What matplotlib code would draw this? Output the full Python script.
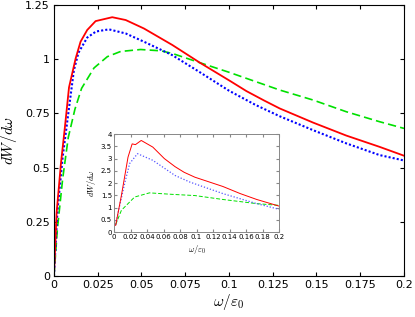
import matplotlib
matplotlib.use("Agg")
import matplotlib.pyplot as plt

plt.rcParams['mathtext.fontset'] = 'cm'
plt.rcParams['font.family'] = ['DejaVu Sans']

# main panel data
red_w = [0, 0.0015, 0.004, 0.0063, 0.0086, 0.0124, 0.0152, 0.019, 0.0238, 0.0333, 0.041,
         0.0514, 0.0676, 0.0834, 0.1006, 0.11, 0.12, 0.129, 0.148, 0.167, 0.186, 0.2]
red_v = [0, 0.29, 0.52, 0.69, 0.87, 1.004, 1.081, 1.135, 1.176, 1.194, 1.181,
         1.142, 1.066, 0.984, 0.900, 0.853, 0.81, 0.773, 0.708, 0.648, 0.596, 0.555]

blue_w = [0, 0.002, 0.005, 0.0082, 0.0114, 0.014, 0.019, 0.024, 0.0314, 0.041, 0.0514,
          0.0676, 0.083, 0.1, 0.115, 0.129, 0.148, 0.167, 0.186, 0.2]
blue_v = [0, 0.3, 0.55, 0.75, 0.95, 1.03, 1.10, 1.128, 1.138, 1.119, 1.081,
          1.019, 0.942, 0.855, 0.79, 0.737, 0.673, 0.612, 0.558, 0.533]

green_w = [0, 0.002, 0.005, 0.0082, 0.012, 0.0158, 0.0229, 0.0305, 0.0381, 0.0495, 0.061,
           0.0676, 0.0834, 0.1, 0.129, 0.148, 0.167, 0.186, 0.2]
green_v = [0, 0.22, 0.45, 0.64, 0.77, 0.866, 0.96, 1.012, 1.036, 1.045, 1.039,
           1.027, 0.984, 0.94, 0.858, 0.812, 0.758, 0.712, 0.681]

# inset data
in_red_w = [0.002, 0.009, 0.017, 0.022, 0.026, 0.033, 0.047, 0.061, 0.074, 0.085, 0.098,
            0.115, 0.132, 0.153, 0.173, 0.2]
in_red_v = [0.27, 1.5, 3.06, 3.6, 3.57, 3.74, 3.47, 3.0, 2.67, 2.44, 2.24,
            2.05, 1.86, 1.57, 1.33, 1.06]

in_blue_w = [0.002, 0.006, 0.0133, 0.019, 0.0285, 0.047, 0.074, 0.092, 0.132, 0.173, 0.2]
in_blue_v = [0.3, 0.95, 2.04, 2.8, 3.2, 2.93, 2.31, 2.04, 1.57, 1.16, 0.93]

in_green_w = [0.002, 0.009, 0.017, 0.025, 0.043, 0.07, 0.098, 0.132, 0.173, 0.2]
in_green_v = [0.3, 0.89, 1.16, 1.43, 1.6, 1.54, 1.49, 1.33, 1.16, 1.09]

main_xticks = [0, 0.025, 0.05, 0.075, 0.1, 0.125, 0.15, 0.175, 0.2]
main_xlabels = ['0', '0.025', '0.05', '0.075', '0.1', '0.125', '0.15', '0.175', '0.2']
main_yticks = [0, 0.25, 0.5, 0.75, 1, 1.25]
main_ylabels = ['0', '0.25', '0.5', '0.75', '1', '1.25']
in_xticks = [0, 0.02, 0.04, 0.06, 0.08, 0.1, 0.12, 0.14, 0.16, 0.18, 0.2]
in_xlabels = ['0', '0.02', '0.04', '0.06', '0.08', '0.1', '0.12', '0.14', '0.16', '0.18', '0.2']
in_yticks = [0, 0.5, 1, 1.5, 2, 2.5, 3, 3.5, 4]
in_ylabels = ['0', '0.5', '1', '1.5', '2', '2.5', '3', '3.5', '4']

fig = plt.figure(figsize=(4.15, 3.17), dpi=100)
ax = fig.add_axes([0.130, 0.1293, 0.8435, 0.8547])

ax.plot(green_w, green_v, color='#00e000', ls=(0, (5, 2.5)), lw=1.2)
ax.plot(blue_w, blue_v, color='blue', ls=(0, (1, 1)), lw=1.5)
ax.plot(red_w, red_v, color='red', lw=1.3)

ax.set_xlim(0, 0.2)
ax.set_ylim(0, 1.25)
ax.set_xticks(main_xticks)
ax.set_xticklabels(main_xlabels)
ax.set_yticks(main_yticks)
ax.set_yticklabels(main_ylabels)
ax.tick_params(direction='in', top=True, right=True, labelsize=8, length=3, pad=3)
ax.set_xlabel(r'$\omega/\varepsilon_0$', fontsize=11, labelpad=1)
ax.set_ylabel(r'$dW/d\omega$', fontsize=11, labelpad=4)

# inset
ins = fig.add_axes([0.2747, 0.268, 0.3976, 0.309])
ins.plot(in_green_w, in_green_v, color='#00e000', ls=(0, (4, 2)), lw=0.7)
ins.plot(in_blue_w, in_blue_v, color='#5555ff', ls=(0, (1, 1.5)), lw=0.9)
ins.plot(in_red_w, in_red_v, color='red', lw=0.7)
ins.set_xlim(0, 0.2)
ins.set_ylim(0, 4)
ins.set_xticks(in_xticks)
ins.set_xticklabels(in_xlabels)
ins.set_yticks(in_yticks)
ins.set_yticklabels(in_ylabels)
for s in ins.spines.values():
    s.set_color('#888888')
    s.set_linewidth(0.7)
ins.tick_params(direction='in', top=True, right=True, labelsize=5, length=2, pad=1.5,
                color='#888888')
ins.set_xlabel(r'$\omega/\varepsilon_0$', fontsize=6, labelpad=2)
ins.set_ylabel(r'$dW/d\omega$', fontsize=6, labelpad=2)

fig.savefig('out.png', dpi=100)
